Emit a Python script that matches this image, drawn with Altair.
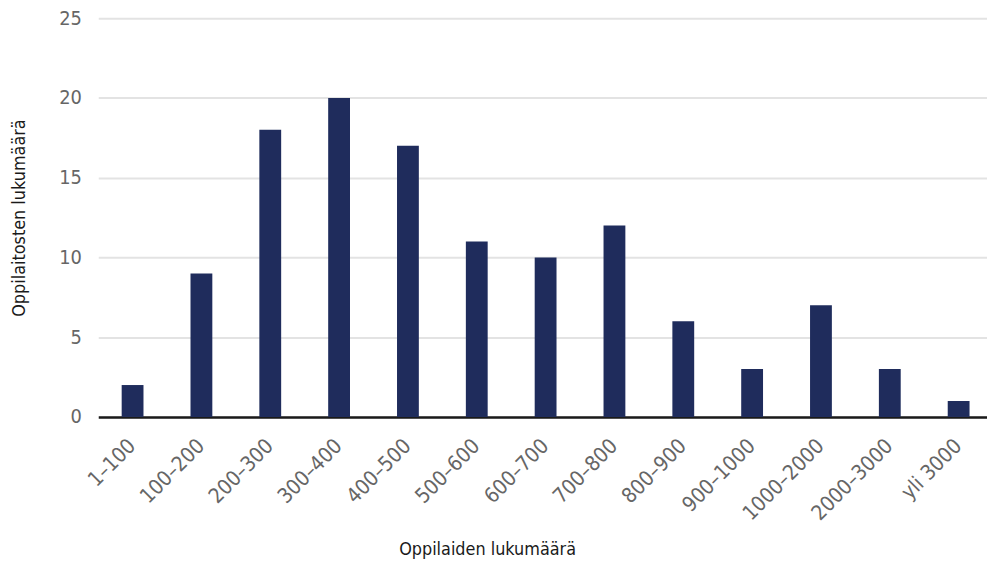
import altair as alt
import pandas as pd

categories = ["1–100", "100–200", "200–300", "300–400", "400–500", "500–600",
              "600–700", "700–800", "800–900", "900–1000", "1000–2000",
              "2000–3000", "yli 3000"]
values = [2, 9, 18, 20, 17, 11, 10, 12, 6, 3, 7, 3, 1]

df = pd.DataFrame({"cat": categories, "val": values})

FONT = "Liberation Sans Narrow, DejaVu Sans Condensed, Roboto, sans-serif"

chart = alt.Chart(df).mark_bar(color="#1f2c5c").encode(
    x=alt.X("cat:N", sort=categories,
            scale=alt.Scale(range=[0, 902], paddingInner=0.683, paddingOuter=0.34),
            axis=alt.Axis(title="Oppilaiden lukumäärä", labelAngle=-45,
                          labelAlign="right", labelBaseline="middle",
                          labelPadding=26, ticks=False, domainColor="#1a1a1a",
                          domainWidth=2.5, labelColor="#666666", labelFontSize=21,
                          labelFont=FONT, titleFont=FONT, titleFontSize=18,
                          titleFontWeight="normal", titleColor="#1a1a1a",
                          titleX=392, titleY=139, titleBaseline="alphabetic",
                          titleAnchor="middle")),
    y=alt.Y("val:Q", scale=alt.Scale(domain=[0, 25]),
            axis=alt.Axis(title="Oppilaitosten lukumäärä", values=[0, 5, 10, 15, 20, 25],
                          domain=False, ticks=False, gridColor="#e3e3e3", gridWidth=2,
                          labelColor="#666666", labelFontSize=20, labelFont=FONT,
                          labelPadding=17, titleFont=FONT, titleFontSize=18,
                          titleFontWeight="normal", titleColor="#1a1a1a",
                          titleX=-74, titleBaseline="alphabetic")),
).properties(
    width=896, height=402,
    autosize=alt.AutoSizeParams(type="none"),
    padding={"left": 91, "top": 8, "right": 0, "bottom": 148},
).configure_view(stroke=None)

chart.save("out.html", embed_options={"renderer": "svg", "actions": False})
